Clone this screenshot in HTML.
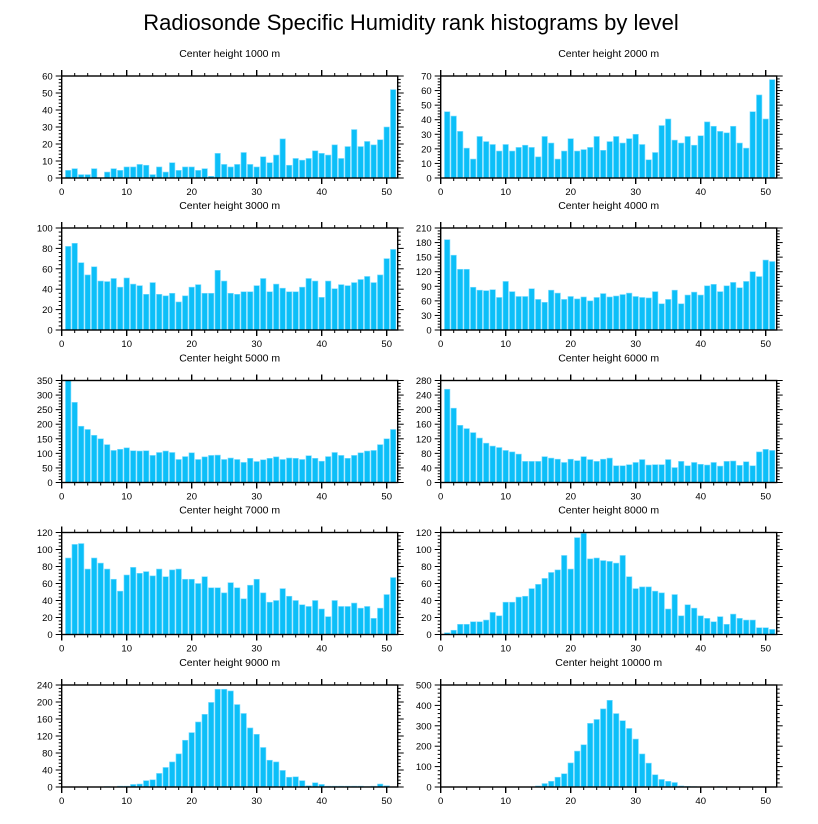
<!DOCTYPE html>
<html><head><meta charset="utf-8"><style>
html,body{margin:0;padding:0;background:#fff;}
svg{display:block;font-family:"Liberation Sans",sans-serif;}
</style></head><body>
<svg id="chart" width="818" height="824" viewBox="0 0 818 824" xmlns="http://www.w3.org/2000/svg">
<text x="411" y="30" font-size="22" text-anchor="middle" fill="#000">Radiosonde Specific Humidity rank histograms by level</text>
</svg>
<script>
const panelTitles = ["Center height 1000 m","Center height 2000 m","Center height 3000 m","Center height 4000 m","Center height 5000 m","Center height 6000 m","Center height 7000 m","Center height 8000 m","Center height 9000 m","Center height 10000 m"];
const yMax = [60,70,100,210,350,280,120,120,240,500];
const yStep = [10,10,20,30,50,40,20,20,40,100];
const xTicks = [0,10,20,30,40,50];
const h1000 = [4.5,5.5,2,2,5.5,0,3.5,5.5,4.5,6.5,6.5,8,7.5,2,6.5,3.5,9,4.5,6.5,6.5,4.5,5.5,1,14.5,8,6.5,8,15,8,6.5,12.5,9,13.5,23,7.5,11.5,10.5,11.5,16,14.5,13.5,19.5,11.5,18.5,28.5,18.5,21.5,19.5,22.5,30,52];
const h2000 = [45.5,42.5,32,20.5,13,28.5,25,23,18.5,23,18.5,21,22.5,21,14.5,28.5,24,13,18.5,27,18.5,19.5,21,28.5,19,25,28.5,24,27,30,23,12.5,17.5,36,40.5,26,24,28.5,22.5,29,38.5,35.5,32,31,35.5,24,20.5,45.5,57,40.5,67.5];
const h3000 = [82,85,66,54,62,48,47.5,50.5,42,51,45,43.5,35,46.5,35,33.5,36,27.5,33.5,42,44.5,36,36,58.5,48,36,35,37.5,37.5,43.5,50.5,37.5,45,41,37.5,37.5,42,50.5,48,32,48,40.5,44.5,43.5,46.5,49.5,52.5,46.5,54,70,79];
const h4000 = [186,154,125,125,88,82,81,83,67,100,79,69,69,85,63,57,82,76,63,69,64,68,60,67,75,68,70,73,76,69,67,66,79,54,63,82,54,72,78,72,91,94,79,91,98,87,100,120,110,144,141];
const h5000 = [350,275,193,182,162,150,130,110,114,119,109,108,109,93,103,108,103,79,89,102,79,88,93,94,79,84,79,69,83,72,78,83,88,79,84,83,79,92,83,73,89,103,93,83,93,102,108,110,130,150,182];
const h6000 = [256,204,157,148,137,122,108,100,96,88,84,78,58,58,58,71,67,64,55,64,60,71,63,58,64,67,46,46,49,55,63,48,49,49,63,41,58,46,55,50,48,55,45,58,59,47,57,46,84,91,88];
const h7000 = [90,106,107,77,90,84,77,65,51,70,79,72,74,69,77,68,76,77,65,65,60,68,55,55,49,61,55,42,58,65,49,38,40,54,45,40,35,33,40,30,21,40,33,33,37,31,33,19,31,47,67];
const h8000 = [2,5,12,12,15,15,17,26,22,38,38,44,45,54,59,66,73,76,93,77,114,119,89,90,87,86,84,93,68,54,56,56,51,49,30,47,22,35,31,22,19,15,21,12,24,19,17,17,8,8,6];
const h9000 = [0,0,0,0,0,0,1,0,2,2,6,7,15,17,32,46,59,78,110,128,153,171,199,230,230,226,194,173,139,124,93,63,59,39,23,24,15,3,10,6,2,2,2,2,2,2,1,2,7,3,0];
const h10000 = [0,0,0,0,0,0,0,0,0,0,0,0,0,0,5,17,28,48,65,118,176,207,312,331,383,425,360,325,287,235,162,117,60,37,28,22,5,3,2,1,1,1,2,0,0,0,0,0,0,0,0];
const allSeries = [h1000,h2000,h3000,h4000,h5000,h6000,h7000,h8000,h9000,h10000];

const NS = "http://www.w3.org/2000/svg";
const svg = document.getElementById("chart");
const PW = 336, PH = 102, UNIT = 6.5;
const lefts = [61.7, 440.7];
const tops = [76, 228, 380.5, 532.5, 685];
function mk(tag, attrs, parent){
  const e = document.createElementNS(NS, tag);
  for (const k in attrs) e.setAttribute(k, attrs[k]);
  (parent||svg).appendChild(e);
  return e;
}
for (let p = 0; p < 10; p++) {
  const L = lefts[p % 2], T = tops[Math.floor(p / 2)];
  const g = mk("g", {});
  
  
  const xs = v => L + v * UNIT;
  const ys = v => T + PH - v / yMax[p] * PH;
  const t = mk("text", {x: L + PW / 2, y: T - 19, "font-size": 10.5, "text-anchor": "middle"}, g);
  t.textContent = panelTitles[p];
  
  
  const bars = mk("g", {fill: "#0cbff8", stroke: "#7fdcff", "stroke-width": 0.6}, g);
  
  
  allSeries[p].forEach((v, i) => {
    const c = i + 1, w = 0.84 * UNIT;
    const yv = Math.min(v, yMax[p]);
    const r = mk("rect", {x: xs(c) - w / 2, y: ys(yv), width: w, height: Math.max(0, ys(0) - ys(yv))}, bars);
    
    
  });
  const fr = mk("rect", {x: L, y: T, width: PW, height: PH, fill: "none", stroke: "#000", "stroke-width": 1.4}, g);
  
  
  const tk = mk("g", {stroke: "#000", "stroke-width": 1}, g);
  
  
  for (let v = 0; v * UNIT <= PW + 0.1; v += 2) {
    const maj = v % 10 === 0, len = maj ? 6 : 3;
    mk("line", {x1: xs(v), x2: xs(v), y1: T, y2: T - len, "stroke-width": maj ? 1.4 : 1}, tk);
    mk("line", {x1: xs(v), x2: xs(v), y1: T + PH, y2: T + PH + len, "stroke-width": maj ? 1.4 : 1}, tk);
  }
  const minor = yStep[p] / 5;
  for (let k = 0; k * minor <= yMax[p] + 1e-6; k++) {
    const v = k * minor, maj = k % 5 === 0, len = maj ? 6 : 3;
    mk("line", {x1: L, x2: L - len, y1: ys(v), y2: ys(v)}, tk);
    mk("line", {x1: L + PW, x2: L + PW + len, y1: ys(v), y2: ys(v)}, tk);
  }
  for (let v = 0; v <= yMax[p] + 1e-6; v += yStep[p]) {
    const lt = mk("text", {x: L - 9, y: ys(v) + 3.5, "font-size": 9.5, "text-anchor": "end"}, g);
    lt.textContent = v;
    
    
  }
  xTicks.forEach(v => {
    const lt = mk("text", {x: xs(v), y: T + PH + 17, "font-size": 9.5, "text-anchor": "middle"}, g);
    lt.textContent = v;
    
    
  });
}
</script>
</body></html>
